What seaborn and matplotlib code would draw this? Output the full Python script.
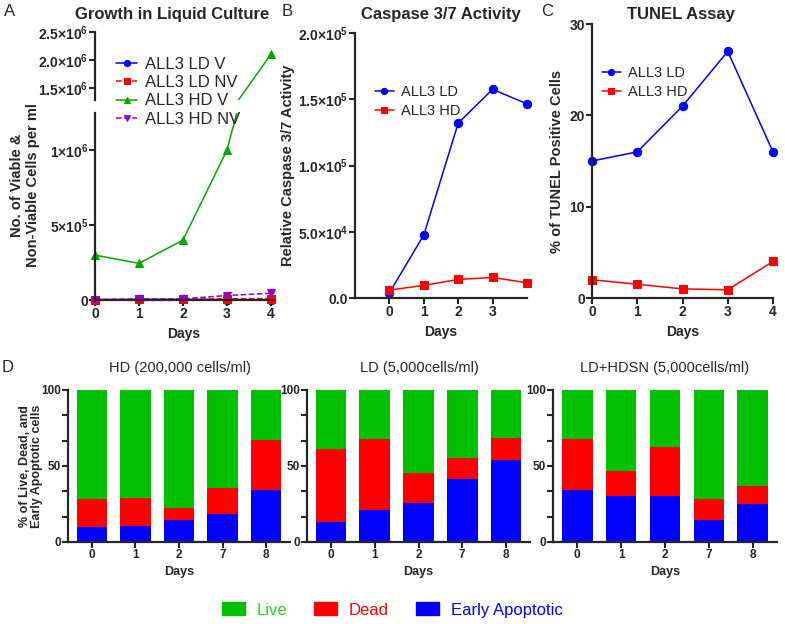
import numpy as np
import pandas as pd
import matplotlib
matplotlib.use("Agg")
import matplotlib.pyplot as plt
import seaborn as sns
from matplotlib.patches import Patch, Rectangle

sns.set_style("ticks")
plt.rcParams['font.family'] = ['Liberation Sans', 'DejaVu Sans']
plt.rcParams['mathtext.fontset'] = 'custom'
plt.rcParams['mathtext.rm'] = 'Liberation Sans'
plt.rcParams['mathtext.bf'] = 'Liberation Sans:bold'

# DATA

# A - growth in liquid culture
days_a = [0, 1, 2, 3, 4]
ld_v = [3000, 4000, 4000, 3000, 2000]
ld_nv = [2000, 6000, 5000, 8000, 10000]
hd_v = [300000, 245000, 400000, 1000000, 2100000]
hd_nv = [2000, 4000, 8000, 30000, 45000]

# B - caspase 3/7
days_b = [0, 1, 2, 3, 4]
casp_ld = [4000, 47500, 132000, 157500, 146500]
casp_hd = [6000, 9500, 14000, 15500, 11500]

# C - TUNEL
days_c = [0, 1, 2, 3, 4]
tunel_ld = [15, 16, 21, 27, 16]
tunel_hd = [2.0, 1.5, 1.0, 0.9, 4.0]

# D - stacked bars (early apoptotic, dead; live = remainder)
days_d = ['0', '1', '2', '7', '8']
panels_d = ['HD (200,000 cells/ml)', 'LD (5,000cells/ml)', 'LD+HDSN (5,000cells/ml)']
apoptotic = [[10, 10.3, 14.3, 18.7, 34.5],
             [13.2, 20.9, 25.7, 41.3, 53.8],
             [34.1, 30.1, 30.3, 14.3, 25.3]]
dead = [[18.1, 18.9, 8.1, 16.5, 32.5],
        [48.3, 47.0, 19.8, 14.1, 14.6],
        [33.8, 16.9, 32.1, 14.3, 11.6]]

BLUE = '#0000FF'
RED = '#FF0000'
GREEN = '#00A800'
PURPLE = '#9900CC'
BAR_GREEN = '#00C000'

W, H = 785, 624
fig = plt.figure(figsize=(W / 100, H / 100), dpi=100)


def add_ax(x0, y0, x1, y1):
    # pixel box -> figure coords
    return fig.add_axes([x0 / W, 1 - y1 / H, (x1 - x0) / W, (y1 - y0) / H])


def style(ax, bottom=True, size=10):
    sns.despine(ax=ax, top=True, right=True, bottom=not bottom)
    for s in ['left', 'bottom']:
        ax.spines[s].set_linewidth(1.6)
    ax.tick_params(width=1.5, length=4, labelsize=size, pad=1)
    for t in ax.get_xticklabels() + ax.get_yticklabels():
        t.set_fontweight('bold')


def sci(m, e):
    return r'$\mathbf{%s{\times}10^{%d}}$' % (m, e)


def line(ax, x, y, color, marker, label, dashed=False):
    sns.lineplot(x=x, y=y, ax=ax, color=color, marker=marker, markersize=6,
                 markeredgecolor=color, linewidth=1.1, label=label,
                 linestyle='--' if dashed else '-')


def clip_wide(ax, y0=-0.05, y1=1.05):
    # clip only vertically so markers on the spines stay whole
    for l in ax.get_lines():
        l.set_clip_path(Rectangle((-0.06, y0), 1.12, y1 - y0, transform=ax.transAxes))


def small_legend(ax, anchor):
    ax.legend(loc='upper left', bbox_to_anchor=anchor, frameon=False, fontsize=10.5,
              handlelength=1.3, labelspacing=0.35, borderaxespad=0, handletextpad=0.5,
              markerscale=0.75)


# PANEL A (broken y axis)
axA = add_ax(95, 113, 273, 300)
axA2 = add_ax(95, 32, 273, 100)
for ax in (axA, axA2):
    line(ax, days_a, ld_v, BLUE, 'o', 'ALL3 LD V')
    line(ax, days_a, ld_nv, RED, 's', 'ALL3 LD NV', dashed=True)
    line(ax, days_a, hd_v, GREEN, '^', 'ALL3 HD V')
    line(ax, days_a, hd_nv, PURPLE, 'v', 'ALL3 HD NV', dashed=True)
    ax.set_xlim(0, 4.05)
    ax.set_xlabel('')
    ax.set_ylabel('')
clip_wide(axA, -0.05, 1.0)
clip_wide(axA2, 0.0, 1.05)
handles, labels = axA.get_legend_handles_labels()
axA.get_legend().remove()
axA2.get_legend().remove()
axA.set_ylim(0, 1.25e6)
axA.set_yticks([0, 5e5, 1e6])
axA.set_yticklabels(['0', sci('5', 5), sci('1', 6)])
axA.set_xticks(days_a)
axA2.set_ylim(1.29e6, 2.5e6)
axA2.set_yticks([1.5e6, 2.0e6, 2.5e6])
axA2.set_yticklabels([sci('1.5', 6), sci('2.0', 6), sci('2.5', 6)])
axA2.set_xticks([])
style(axA)
style(axA2, bottom=False)
axA.set_xlabel('Days', fontsize=10, fontweight='bold')
fig.text(25 / W, 1 - 185 / H, 'No. of Viable &\nNon-Viable Cells per ml', rotation=90,
         ha='center', va='center', fontsize=10.5, fontweight='bold', linespacing=1.15)
fig.legend(handles, labels, loc='upper left', bbox_to_anchor=(109 / W, 1 - 50 / H),
           frameon=False, fontsize=12, handlelength=1.3, labelspacing=0.2,
           borderaxespad=0, handletextpad=0.45, markerscale=0.75)
fig.text(172 / W, 1 - 15 / H, 'Growth in Liquid Culture', ha='center', va='center',
         fontsize=12, fontweight='bold')

# PANEL B
axB = add_ax(355, 33, 527, 298)
line(axB, days_b, casp_ld, BLUE, 'o', 'ALL3 LD')
line(axB, days_b, casp_hd, RED, 's', 'ALL3 HD')
axB.set_xlim(-1, 4)
axB.set_ylim(0, 2e5)
clip_wide(axB)
axB.set_xticks([0, 1, 2, 3])
axB.set_yticks([0, 5e4, 1e5, 1.5e5, 2e5])
axB.set_yticklabels(['0.0', sci('5.0', 4), sci('1.0', 5), sci('1.5', 5), sci('2.0', 5)])
small_legend(axB, ((369 - 355) / 172, 1 - (79 - 33) / 265))
style(axB)
axB.set_xlabel('Days', fontsize=10, fontweight='bold')
axB.set_ylabel('Relative Caspase 3/7 Activity', fontsize=10.5, fontweight='bold', labelpad=2)
fig.text(441 / W, 1 - 15 / H, 'Caspase 3/7 Activity', ha='center', va='center',
         fontsize=12, fontweight='bold')

# PANEL C
axC = add_ax(592, 24, 773, 298)
line(axC, days_c, tunel_ld, BLUE, 'o', 'ALL3 LD')
line(axC, days_c, tunel_hd, RED, 's', 'ALL3 HD')
axC.set_xlim(0, 4)
axC.set_ylim(0, 30)
clip_wide(axC)
axC.set_xticks(days_c)
axC.set_yticks([0, 10, 20, 30])
small_legend(axC, ((596 - 592) / 181, 1 - (60 - 24) / 274))
style(axC)
axC.set_xlabel('Days', fontsize=10, fontweight='bold')
axC.set_ylabel('% of TUNEL Positive Cells', fontsize=10.5, fontweight='bold', labelpad=4)
fig.text(681 / W, 1 - 15 / H, 'TUNEL Assay', ha='center', va='center',
         fontsize=12, fontweight='bold')

# PANEL D
boxes = [(68, 290), (307, 530), (553, 777)]
centers = [180, 419, 665]
for i, (x0, x1) in enumerate(boxes):
    ax = add_ax(x0, 390, x1, 542)
    apo = np.array(apoptotic[i])
    dd = np.array(dead[i])
    sns.barplot(x=days_d, y=[100] * 5, color=BAR_GREEN, saturation=1, width=0.7, ax=ax,
                linewidth=0)
    sns.barplot(x=days_d, y=apo + dd, color=RED, saturation=1, width=0.7, ax=ax, linewidth=0)
    sns.barplot(x=days_d, y=apo, color=BLUE, saturation=1, width=0.7, ax=ax, linewidth=0)
    ax.set_xlim(-0.55, 4.55)
    ax.set_ylim(0, 100)
    yt = [0, 100 / 6, 200 / 6, 50, 400 / 6, 500 / 6, 100]
    ax.set_yticks(yt)
    ax.set_yticklabels(['0', '', '', '50', '', '', '100'])
    style(ax, size=8.5)
    ax.set_xlabel('Days', fontsize=9, fontweight='bold', labelpad=4)
    ax.set_ylabel('')
    fig.text(centers[i] / W, 1 - 368 / H, panels_d[i], ha='center', va='center', fontsize=10.5)
fig.text(31 / W, 1 - 466 / H, '% of Live, Dead, and\nEarly Apoptotic cells', rotation=90,
         ha='center', va='center', fontsize=9, fontweight='bold', linespacing=1.1)

# panel letters
for lab, x, y in [('A', 10, 12), ('B', 287, 12), ('C', 547, 12), ('D', 8, 368)]:
    fig.text(x / W, 1 - y / H, lab, ha='center', va='center', fontsize=12)

# legend for D
leg = fig.legend(handles=[Patch(color=BAR_GREEN, label='Live'),
                          Patch(color=RED, label='Dead'),
                          Patch(color=BLUE, label='Early Apoptotic')],
                 loc='center', bbox_to_anchor=(392 / W, 1 - 610 / H), ncol=3, frameon=False,
                 fontsize=12, handlelength=1.4, handleheight=0.8, columnspacing=1.6,
                 handletextpad=0.7)
for t, c in zip(leg.get_texts(), ['#22DD22', RED, BLUE]):
    t.set_color(c)

fig.savefig('out.png', dpi=100)
